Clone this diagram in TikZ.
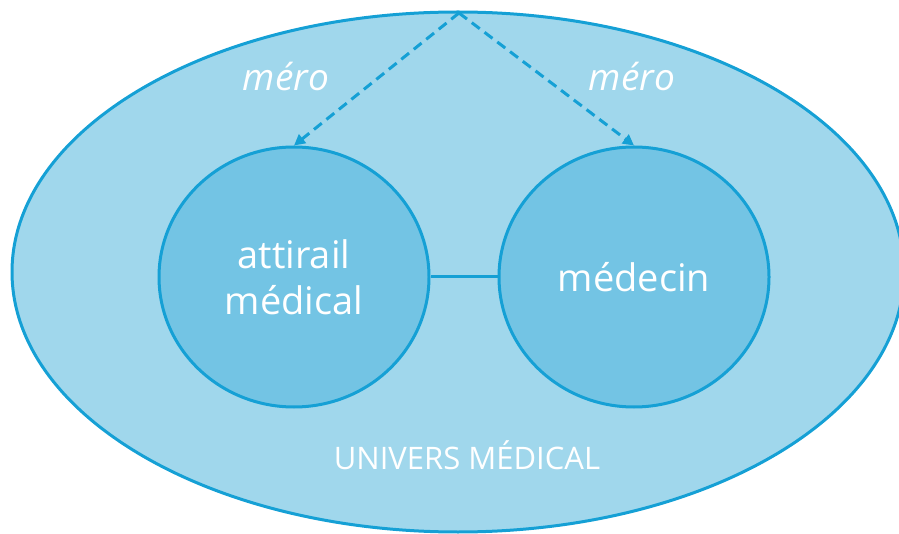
\documentclass[tikz,border=0pt]{standalone}
\usepackage{fontspec}
\setmainfont{Open Sans}
\usepackage{tikz}
\usetikzlibrary{shapes.geometric, arrows.meta, positioning, calc}
\definecolor{myblue}{RGB}{21,160,213}
\definecolor{outerfill}{RGB}{160,215,236}
\definecolor{innerfill}{RGB}{115,196,228}
\tikzset{
  univers/.style={ellipse, draw=myblue, fill=outerfill, line width=3pt,
    minimum width=892pt, minimum height=520pt, inner sep=0pt},
  concept/.style={ellipse, draw=myblue, fill=innerfill, line width=3pt,
    minimum width=270pt, minimum height=260pt, align=center,
    text=white, font=\fontsize{38}{46}\selectfont},
  meroarrow/.style={-{Triangle[length=11pt, width=11pt]}, dashed,
    dash pattern=on 10pt off 6pt, line width=3pt, color=myblue},
  link/.style={line width=3pt, color=myblue},
  lbl/.style={text=white, font=\itshape\fontsize{37}{40}\selectfont}
}
\begin{document}
\begin{tikzpicture}[x=1pt, y=-1pt]
    \useasboundingbox (0,0) rectangle (899,534);

    % Outer universe
    \node[univers] (univ) at (458,272) {};
    \node[text=white, font=\fontsize{31}{34}\selectfont] (unilbl) at (467,455) {UNIVERS MÉDICAL};

    % Concepts
    \node[concept] (attirail) at (294,277) {attirail\\médical};
    \node[concept] (medecin) at (634,277) {médecin};

    \draw[link] (attirail) -- (medecin);

    % Meronymy arrows
    \coordinate (apex) at (459,13);
    \draw[meroarrow] (apex) -- (attirail.north);
    \draw[meroarrow] (apex) -- (medecin.north);

    \node[lbl] (mero1) at (286,77) {méro};
    \node[lbl] (mero2) at (632,77) {méro};
\end{tikzpicture}
\end{document}
